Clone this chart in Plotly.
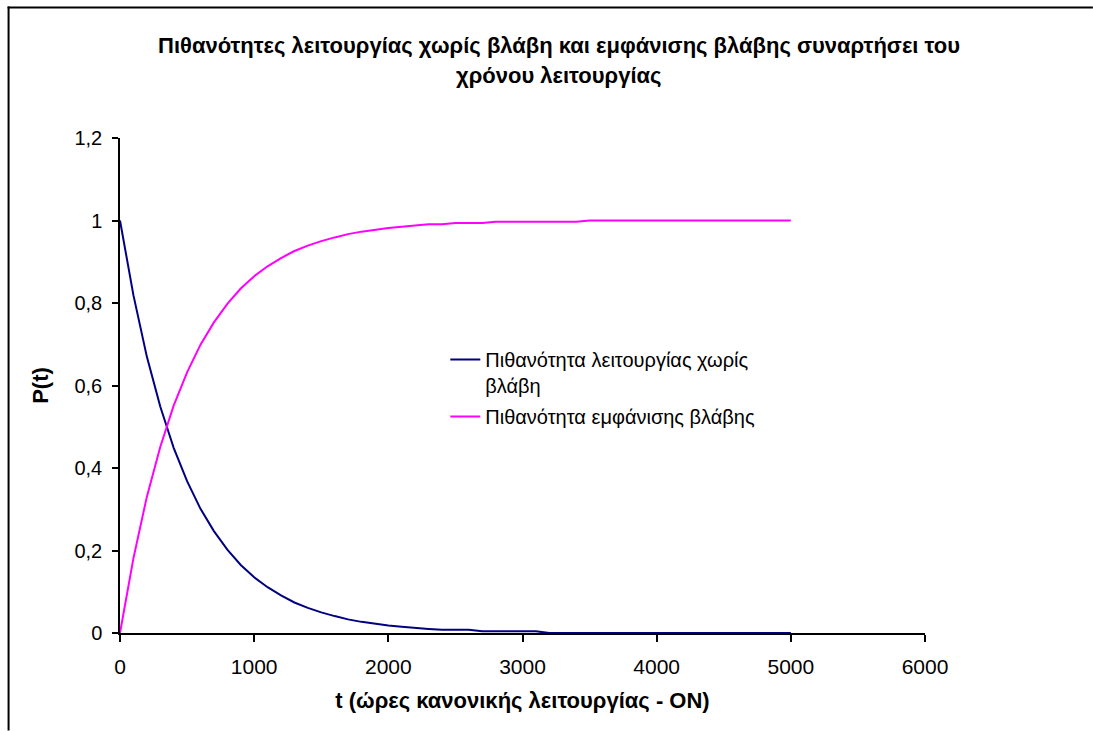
import plotly.graph_objects as go

# ---- data ----
t_hours = [0, 100, 200, 300, 400, 500, 600, 700, 800, 900,
           1000, 1100, 1200, 1300, 1400, 1500, 1600, 1700, 1800, 1900,
           2000, 2100, 2200, 2300, 2400, 2500, 2600, 2700, 2800, 2900,
           3000, 3100, 3200, 3300, 3400, 3500, 3600, 3700, 3800, 3900,
           4000, 4100, 4200, 4300, 4400, 4500, 4600, 4700, 4800, 4900,
           5000]

p_no_failure = [1.000, 0.819, 0.670, 0.549, 0.449, 0.368, 0.301, 0.247, 0.202, 0.165,
                0.135, 0.111, 0.091, 0.074, 0.061, 0.050, 0.041, 0.033, 0.027, 0.022,
                0.018, 0.015, 0.012, 0.010, 0.008, 0.008, 0.008, 0.004, 0.004, 0.004,
                0.004, 0.004, 0.000, 0.000, 0.000, 0.000, 0.000, 0.000, 0.000, 0.000,
                0.000, 0.000, 0.000, 0.000, 0.000, 0.000, 0.000, 0.000, 0.000, 0.000,
                0.000]

p_failure = [0.000, 0.181, 0.330, 0.451, 0.551, 0.632, 0.699, 0.753, 0.798, 0.835,
             0.865, 0.889, 0.909, 0.926, 0.939, 0.950, 0.959, 0.967, 0.973, 0.978,
             0.982, 0.985, 0.988, 0.991, 0.991, 0.994, 0.994, 0.994, 0.997, 0.997,
             0.997, 0.997, 0.997, 0.997, 0.997, 1.000, 1.000, 1.000, 1.000, 1.000,
             1.000, 1.000, 1.000, 1.000, 1.000, 1.000, 1.000, 1.000, 1.000, 1.000,
             1.000]

y_tick_vals = [0, 0.2, 0.4, 0.6, 0.8, 1.0, 1.2]
y_tick_text = ["0", "0,2", "0,4", "0,6", "0,8", "1", "1,2"]
x_tick_vals = [0, 1000, 2000, 3000, 4000, 5000, 6000]
x_tick_text = ["0", "1000", "2000", "3000", "4000", "5000", "6000"]

title_line1 = "Πιθανότητες λειτουργίας χωρίς βλάβη και εμφάνισης βλάβης συναρτήσει του"
title_line2 = "χρόνου λειτουργίας"
name_no_failure = "Πιθανότητα λειτουργίας χωρίς<br>βλάβη"
name_failure = "Πιθανότητα εμφάνισης βλάβης"
x_title = "t (ώρες κανονικής λειτουργίας - ON)"
y_title = "P(t)"

FONT = "Liberation Sans, Arial, sans-serif"

# ---- geometry (pixels) ----
W, H = 1093, 731
L, R, T, B = 119.5, 925.0, 137.7, 633.3
pw, ph = R - L, B - T


def px_x(px):
    return (px - L) / pw


def px_y(py):
    return (B - py) / ph


fig = go.Figure()
fig.add_trace(go.Scatter(x=t_hours, y=p_no_failure, mode="lines", name=name_no_failure,
                         legendgroup="g1",
                         line=dict(color="#000080", width=2)))
fig.add_trace(go.Scatter(x=t_hours, y=p_failure, mode="lines", name=name_failure,
                         legendgroup="g2",
                         line=dict(color="#FF00FF", width=2)))

fig.update_layout(
    width=W, height=H,
    margin=dict(l=L, r=W - R, t=T, b=H - B, pad=0),
    paper_bgcolor="white", plot_bgcolor="white",
    font=dict(family=FONT, size=20, color="black"),
    showlegend=True,
    legend=dict(x=px_x(445), y=px_y(340), xanchor="left", yanchor="top",
                bgcolor="rgba(0,0,0,0)", borderwidth=0, valign="top",
                tracegroupgap=2,
                font=dict(family=FONT, size=20, color="black")),
    xaxis=dict(range=[0, 6000], tickmode="array", tickvals=x_tick_vals, ticktext=x_tick_text,
               showgrid=False, zeroline=False, showline=True, linecolor="black", linewidth=1.5,
               ticks="outside", ticklen=7, tickcolor="black", tickwidth=1.5,
               tickfont=dict(family=FONT, size=21, color="black"), ticklabelstandoff=7,
               title=dict(text="<b>" + x_title + "</b>", font=dict(family=FONT, size=22), standoff=16)),
    yaxis=dict(range=[0, 1.2], tickmode="array", tickvals=y_tick_vals, ticktext=y_tick_text,
               showgrid=False, zeroline=False, showline=True, linecolor="black", linewidth=1.5,
               ticks="outside", ticklen=6, tickcolor="black", tickwidth=1.5,
               tickfont=dict(family=FONT, size=20, color="black"), ticklabelstandoff=6,
               title=dict(text="<b>" + y_title + "</b>", font=dict(family=FONT, size=22), standoff=20)),
    annotations=[
        dict(text="<b>" + title_line1 + "</b>", xref="paper", yref="paper",
             x=px_x(558.5), y=px_y(45), xanchor="center", yanchor="middle", showarrow=False,
             font=dict(family=FONT, size=22, color="black")),
        dict(text="<b>" + title_line2 + "</b>", xref="paper", yref="paper",
             x=px_x(558.5), y=px_y(75), xanchor="center", yanchor="middle", showarrow=False,
             font=dict(family=FONT, size=22, color="black")),
    ],
    shapes=[
        dict(type="rect", xref="paper", yref="paper",
             x0=px_x(7), x1=px_x(W), y0=px_y(8), y1=px_y(6),
             line=dict(width=0), fillcolor="black", layer="below"),
        dict(type="line", xref="paper", yref="paper",
             x0=px_x(8), x1=px_x(8), y0=px_y(6), y1=px_y(H),
             line=dict(color="black", width=2), layer="below"),
    ],
)

fig.write_html("out.html")
